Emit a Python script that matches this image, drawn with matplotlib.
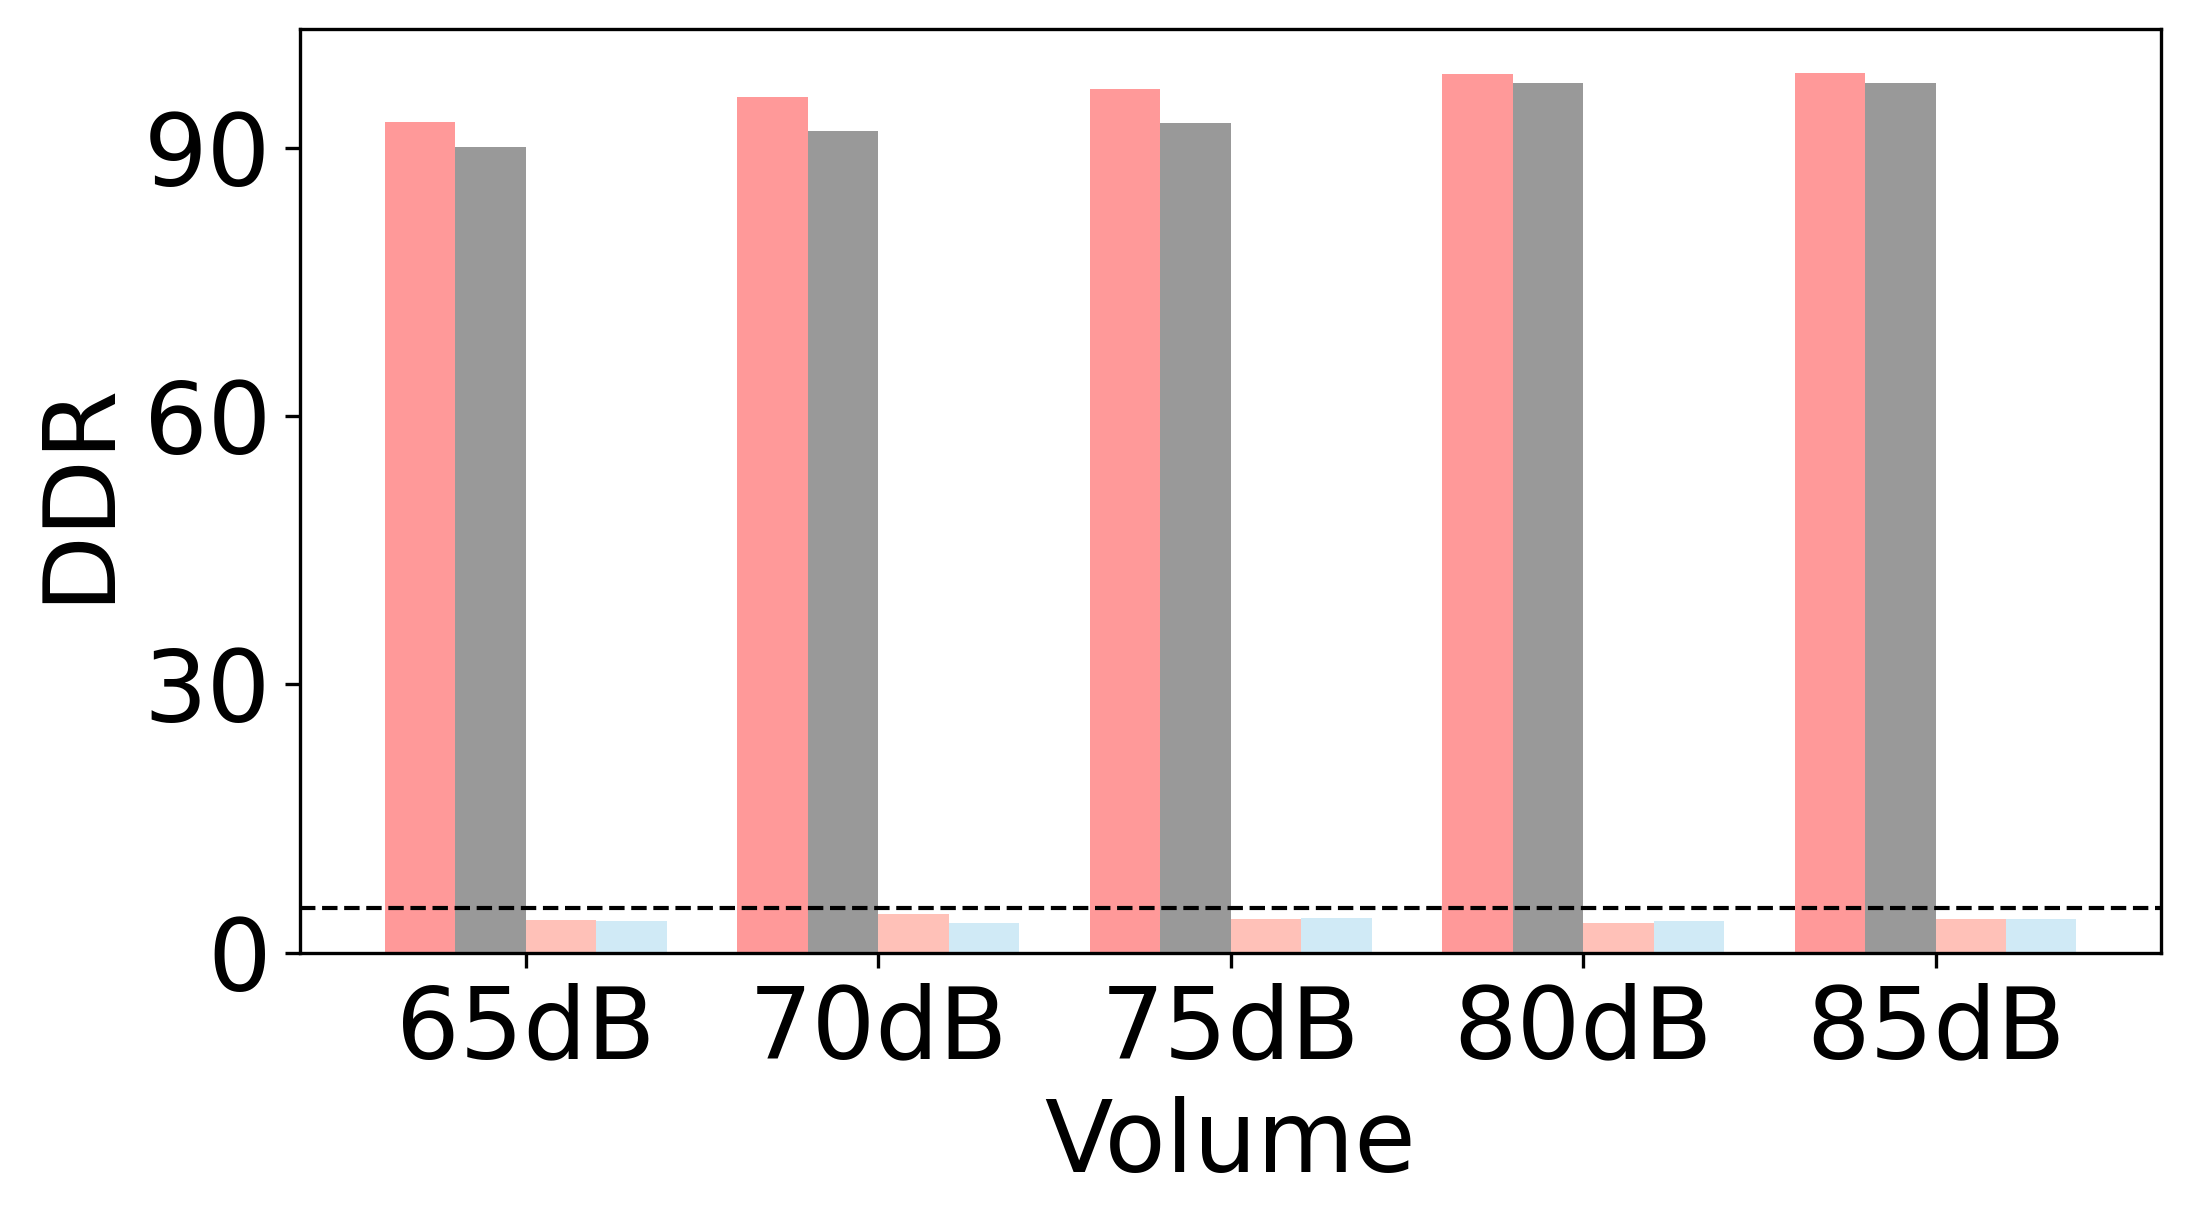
import matplotlib.pyplot as plt
import numpy as np

volumes = ["65dB", "70dB", "75dB", "80dB", "85dB"]
series_a = [92.9, 95.7, 96.5, 98.2, 98.3]
series_b = [90.1, 91.9, 92.7, 97.2, 97.2]
series_c = [3.7, 4.3, 3.8, 3.3, 3.8]
series_d = [3.6, 3.3, 3.9, 3.6, 3.8]
threshold = 5

colors = ["#ff9999", "#999999", "#ffc1b8", "#d0eaf6"]

fig, ax = plt.subplots(figsize=(7.3, 4.0767), dpi=300)
fig.subplots_adjust(left=0.137, right=0.9868, top=0.976, bottom=0.221)

x = np.arange(len(volumes))
w = 0.2
for i, vals in enumerate([series_a, series_b, series_c, series_d]):
    ax.bar(x + (i - 1.5) * w, vals, width=w, color=colors[i])

ax.axhline(threshold, color="black", linestyle="--", linewidth=1)

ax.set_ylim(0, max(series_a) * 1.05)
ax.set_yticks([0, 30, 60, 90])
ax.set_xticks(x)
ax.set_xticklabels(volumes)
ax.tick_params(labelsize=24)
ax.set_xlabel("Volume", fontsize=24)
ax.set_ylabel("DDR", fontsize=24)

plt.savefig("out.png", dpi=300)
